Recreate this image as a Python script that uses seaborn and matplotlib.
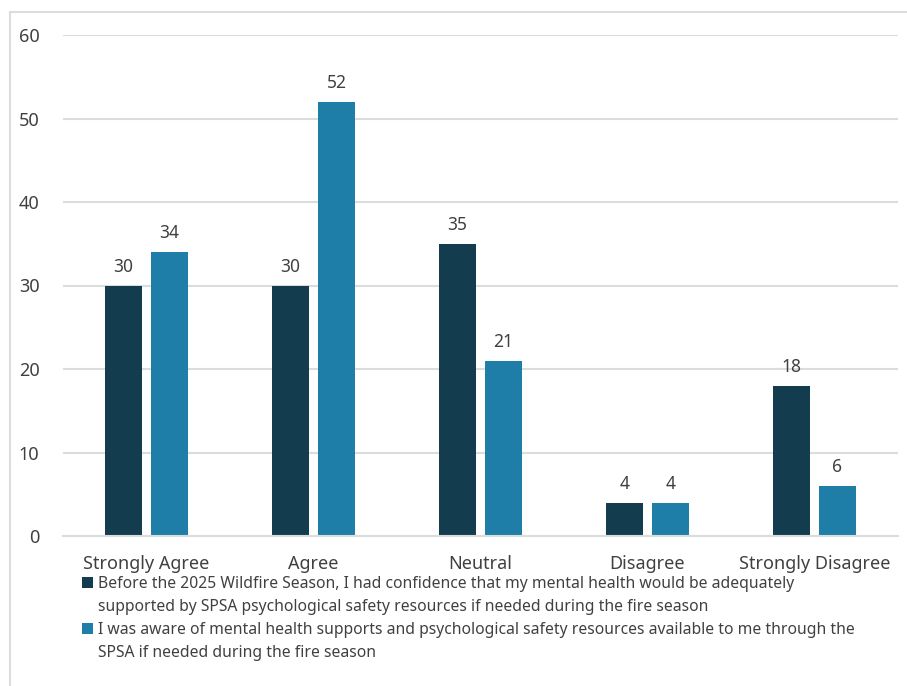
import seaborn as sns
import pandas as pd
import matplotlib.pyplot as plt
from matplotlib.lines import Line2D
from matplotlib.patches import Patch

categories = ['Strongly Agree', 'Agree', 'Neutral', 'Disagree', 'Strongly Disagree']
before_vals = [30, 30, 35, 4, 18]
aware_vals = [34, 52, 21, 4, 6]
series_names = ['Before', 'Aware']
legend_lines = [
    ['Before the 2025 Wildfire Season, I had confidence that my mental health would be adequately',
     'supported by SPSA psychological safety resources if needed during the fire season'],
    ['I was aware of mental health supports and psychological safety resources available to me through the',
     'SPSA if needed during the fire season'],
]
colors = ['#133C4F', '#1F7EA7']

df = pd.DataFrame({
    'category': categories * 2,
    'value': before_vals + aware_vals,
    'series': [series_names[0]] * len(categories) + [series_names[1]] * len(categories),
})

sns.set_style('white')
plt.rcParams['font.family'] = ['Noto Sans', 'DejaVu Sans']
text_col = '#404040'
grid_col = '#D9DEDD'

fig = plt.figure(figsize=(9.07, 6.86), dpi=100)
ax = fig.add_axes([63 / 907, 1 - 536 / 686, 835 / 907, (536 - 35) / 686])

sns.barplot(data=df, x='category', y='value', hue='series', palette=colors,
            saturation=1, width=0.55, gap=0.18, linewidth=0, ax=ax, legend=False)

for c in ax.containers:
    ax.bar_label(c, padding=7, fontsize=12.5, color=text_col)

ax.set_ylim(0, 60)
ax.set_yticks(range(0, 61, 10))
ax.set_xlim(-0.5, 4.5)
ax.yaxis.grid(True, color=grid_col, linewidth=1.5)
ax.set_axisbelow(True)
for s in ['top', 'right', 'left']:
    ax.spines[s].set_visible(False)
ax.spines['bottom'].set_color(grid_col)
ax.spines['bottom'].set_linewidth(1.5)
ax.tick_params(axis='y', length=0, pad=17, labelsize=13, labelcolor=text_col)
ax.tick_params(axis='x', length=0, pad=14, labelsize=13, labelcolor=text_col)
ax.set_xlabel('')
ax.set_ylabel('')

# legend: one row per text line, square only on the first line of each entry
handles, labels = [], []
for col, lines in zip(colors, legend_lines):
    for i, line in enumerate(lines):
        if i == 0:
            handles.append(Patch(facecolor=col, edgecolor='none'))
        else:
            handles.append(Patch(facecolor='none', edgecolor='none'))
        labels.append(line)
fig.legend(handles, labels, loc='upper left', bbox_to_anchor=(82 / 907, 1 - 576 / 686),
           frameon=False, fontsize=11.3, handlelength=0.7, handleheight=0.7,
           handletextpad=0.3, labelspacing=0.45, labelcolor=text_col,
           borderaxespad=0, borderpad=0)

# outer frame (top and left edges visible)
fig.add_artist(Line2D([10 / 907, 1], [1 - 12 / 686, 1 - 12 / 686], color=grid_col, linewidth=1.5))
fig.add_artist(Line2D([10 / 907, 10 / 907], [0, 1 - 12 / 686], color=grid_col, linewidth=1.5))

fig.savefig('out.png', dpi=100)
